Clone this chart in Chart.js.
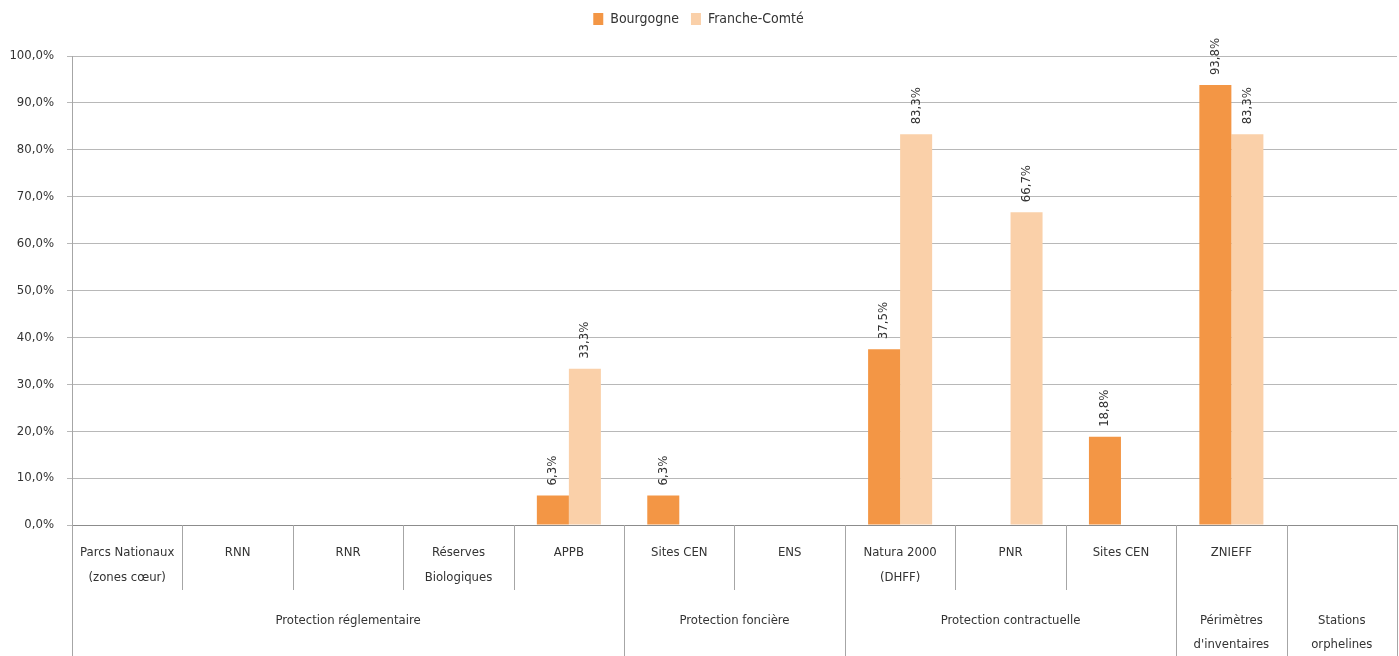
<!DOCTYPE html>
<html>
<head>
<meta charset="utf-8">
<script src="https://cdn.jsdelivr.net/npm/chart.js@4"></script>
<style>
  html, body { margin: 0; padding: 0; background: #fff; }
  #wrap { width: 1399px; height: 656px; }
</style>
</head>
<body>
<div id="wrap"><canvas id="chart" width="1399" height="656"></canvas></div>
<script>
// catégories (niveau 1)
const categories = [
    ['Parcs Nationaux', '(zones cœur)'], ['RNN'], ['RNR'], ['Réserves', 'Biologiques'], ['APPB'],
    ['Sites CEN'], ['ENS'],
    ['Natura 2000', '(DHFF)'], ['PNR'], ['Sites CEN'],
    ['ZNIEFF'],
    ['']
];
// groupes (niveau 2)
const groupLabels = [['Protection réglementaire'], ['Protection foncière'], ['Protection contractuelle'], ['Périmètres', "d'inventaires"], ['Stations', 'orphelines']];
const groupSizes = [5, 2, 3, 1, 1];

const bourgogne = [0, 0, 0, 0, 6.3, 6.3, 0, 37.5, 0, 18.8, 93.8, 0];
const francheComte = [0, 0, 0, 0, 33.3, 0, 0, 83.3, 66.7, 0, 83.3, 0];

const FONT = "'DejaVu Sans Condensed', 'Liberation Sans Narrow', sans-serif";
const TEXT = '#333333';

function fmt(v) {
    return v.toFixed(1).replace('.', ',') + '%';
}

// plus d'espace sous la légende
const legendSpace = {
    id: 'legendSpace',
    beforeInit(chart) {
        const fit = chart.legend.fit;
        chart.legend.fit = function () {
            fit.call(this);
            this.height += 20;
        };
    }
};

// étiquettes verticales au-dessus des barres
const valueLabels = {
    id: 'valueLabels',
    afterDatasetsDraw(chart) {
        const ctx = chart.ctx;
        ctx.save();
        ctx.font = '13px ' + FONT;
        ctx.fillStyle = TEXT;
        ctx.textAlign = 'left';
        ctx.textBaseline = 'middle';
        chart.data.datasets.forEach((ds, di) => {
            const meta = chart.getDatasetMeta(di);
            meta.data.forEach((bar, i) => {
                const v = ds.data[i];
                if (!v) return;
                ctx.save();
                ctx.translate(bar.x, bar.y - 10);
                ctx.rotate(-Math.PI / 2);
                ctx.fillText(fmt(v), 0, 0);
                ctx.restore();
            });
        });
        ctx.restore();
    }
};

// axe des catégories à deux niveaux
const groupedAxis = {
    id: 'groupedAxis',
    afterDraw(chart) {
        const ctx = chart.ctx;
        const x = chart.scales.x;
        const n = categories.length;
        const w = (x.right - x.left) / n;
        const top = chart.chartArea.bottom;
        const bottom = chart.height;
        ctx.save();
        ctx.strokeStyle = '#a6a6a6';
        ctx.lineWidth = 1;
        ctx.font = '13px ' + FONT;
        ctx.fillStyle = TEXT;
        ctx.textAlign = 'center';
        ctx.textBaseline = 'middle';

        // séparateurs de groupes
        const edges = [0];
        groupSizes.forEach(s => edges.push(edges[edges.length - 1] + s));
        const isEdge = new Set(edges);
        for (let i = 0; i <= n; i++) {
            const px = Math.round(x.getPixelForValue(i) - w / 2) + 0.5;
            ctx.beginPath();
            ctx.moveTo(px, top);
            ctx.lineTo(px, isEdge.has(i) ? bottom : top + 65);
            ctx.stroke();
        }

        categories.forEach((lines, i) => {
            const cx = x.getPixelForValue(i);
            lines.forEach((t, k) => ctx.fillText(t, cx, top + 28 + k * 25));
        });

        groupLabels.forEach((lines, g) => {
            const a = x.getPixelForValue(edges[g]) - w / 2;
            const b = x.getPixelForValue(edges[g + 1] - 1) + w / 2;
            lines.forEach((t, k) => ctx.fillText(t, (a + b) / 2, top + 96 + k * 24));
        });
        ctx.restore();
    }
};

const ctx = document.getElementById('chart').getContext('2d');
const chart = new Chart(ctx, {
    type: 'bar',
    data: {
        labels: categories.map(c => c.join(' ')),
        datasets: [{
            label: 'Bourgogne',
            data: bourgogne,
            backgroundColor: '#f39645',
            categoryPercentage: 0.58,
            barPercentage: 1.0
        }, {
            label: 'Franche-Comté',
            data: francheComte,
            backgroundColor: '#fad0a9',
            categoryPercentage: 0.58,
            barPercentage: 1.0
        }]
    },
    options: {
        responsive: false,
        animation: false,
        layout: {
            padding: { top: 0, right: 2, left: 0, bottom: 0 }
        },
        plugins: {
            legend: {
                position: 'top',
                labels: {
                    boxWidth: 10,
                    boxHeight: 12,
                    padding: 12,
                    color: TEXT,
                    font: { family: FONT, size: 14 }
                }
            },
            tooltip: { enabled: false }
        },
        scales: {
            x: {
                ticks: { display: false },
                grid: { display: false },
                border: { display: true, color: '#8c8c8c' },
                afterFit(scale) { scale.height = 131; }
            },
            y: {
                min: 0,
                max: 100,
                ticks: {
                    stepSize: 10,
                    padding: 13,
                    color: TEXT,
                    font: { family: FONT, size: 13 },
                    callback: v => fmt(v)
                },
                grid: { color: '#b8b8b8', tickLength: 5 },
                border: { display: true, color: '#a6a6a6' },
                afterFit(scale) { scale.width = 72; }
            }
        }
    },
    plugins: [legendSpace, valueLabels, groupedAxis]
});
</script>
</body>
</html>
